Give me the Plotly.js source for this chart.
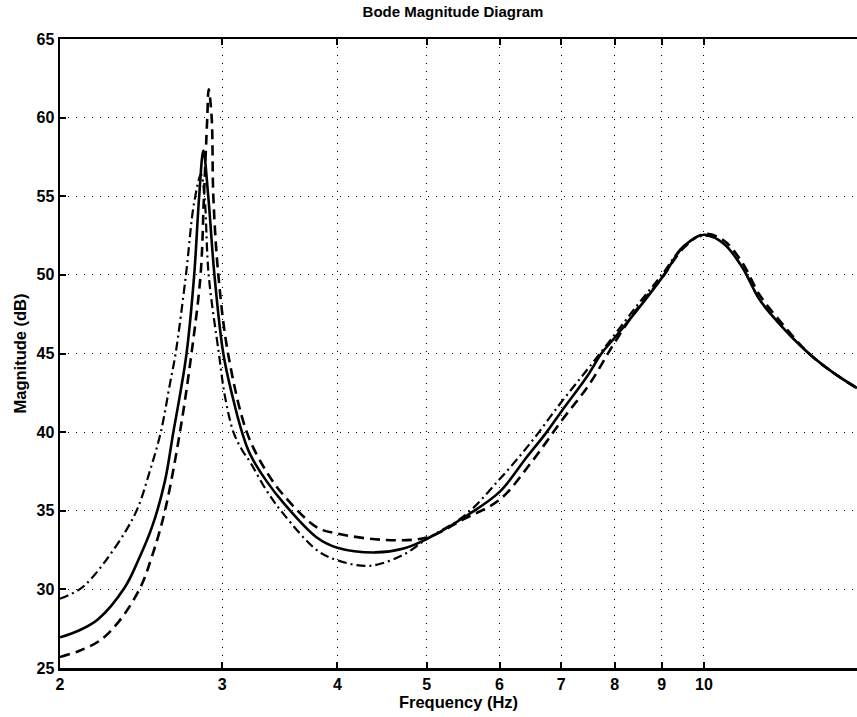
<!DOCTYPE html>
<html>
<head>
<meta charset="utf-8">
<script src="https://cdn.plot.ly/plotly-3.0.1.min.js"></script>
<style>html,body{margin:0;padding:0;background:#fff;overflow:hidden;}</style>
</head>
<body>
<div id="chart" style="width:857px;height:717px;"></div>
<script>
// Frequency (Hz) and magnitude (dB)
const freqSolid = [2.0, 2.1, 2.2, 2.35, 2.43, 2.52, 2.6, 2.655, 2.7, 2.744, 2.797, 2.832, 2.862, 2.897, 2.942, 3.008, 3.08, 3.152, 3.216, 3.35, 3.496, 3.8, 4.0, 4.4, 4.72, 5.0, 5.53, 6.0, 6.42, 6.75, 7.0, 7.46, 7.74, 8.0, 8.5, 9.05, 9.5, 10.0, 10.5, 11.0, 11.5, 12.2, 13.0, 13.8, 14.66];
const magSolid  = [26.95, 27.4, 28.1, 30.1, 31.8, 34.05, 36.9, 40.0, 42.4, 45.0, 50.0, 55.0, 57.9, 55.0, 50.0, 45.0, 42.2, 40.0, 38.6, 36.9, 35.5, 33.3, 32.65, 32.35, 32.6, 33.2, 34.7, 36.2, 38.4, 40.0, 41.3, 43.5, 45.0, 46.0, 47.9, 50.0, 51.8, 52.55, 52.0, 50.5, 48.4, 46.6, 45.0, 43.8, 42.8];

const freqDashed = [2.0, 2.1, 2.21, 2.32, 2.442, 2.52, 2.6, 2.699, 2.778, 2.842, 2.866, 2.89, 2.90, 2.922, 2.934, 2.971, 3.044, 3.19, 3.35, 3.496, 3.8, 4.0, 4.49, 5.0, 5.5, 6.0, 6.5, 7.0, 7.5, 8.0, 8.5, 9.0, 9.5, 10.0, 10.5, 11.0, 11.5, 12.2, 13.0, 13.8, 14.66];
const magDashed  = [25.7, 26.1, 26.75, 28.0, 30.06, 32.2, 35.0, 40.0, 45.0, 50.0, 55.0, 60.0, 61.8, 60.0, 55.0, 50.0, 45.0, 40.0, 37.5, 36.0, 33.95, 33.55, 33.15, 33.3, 34.5, 35.7, 38.1, 40.7, 43.0, 45.7, 48.0, 49.8, 51.7, 52.6, 52.2, 50.8, 48.7, 46.8, 45.0, 43.8, 42.8];

const freqDashDot = [2.0, 2.1, 2.156, 2.247, 2.362, 2.43, 2.503, 2.573, 2.633, 2.67, 2.74, 2.795, 2.845, 2.87, 2.90, 2.975, 3.02, 3.085, 3.15, 3.216, 3.35, 3.496, 3.8, 4.0, 4.34, 4.716, 5.0, 5.5, 6.0, 6.5, 7.0, 7.5, 8.0, 8.5, 9.0, 9.5, 10.0, 10.5, 11.0, 11.5, 12.2, 13.0, 13.8, 14.66];
const magDashDot  = [29.4, 30.0, 30.6, 31.9, 33.8, 35.2, 37.5, 40.0, 43.1, 45.0, 50.0, 54.5, 56.4, 55.0, 50.0, 45.0, 42.3, 40.0, 38.9, 38.1, 36.3, 34.8, 32.5, 31.85, 31.5, 32.2, 33.2, 34.7, 37.0, 39.4, 41.9, 44.1, 46.2, 48.2, 50.0, 51.8, 52.5, 52.0, 50.5, 48.4, 46.6, 45.0, 43.8, 42.8];

const xTickVals = [2, 3, 4, 5, 6, 7, 8, 9, 10];
const xTickText = ['2', '3', '4', '5', '6', '7', '8', '9', '10'];
const yTickVals = [25, 30, 35, 40, 45, 50, 55, 60, 65];

const FONT = 'Liberation Sans, Arial, Helvetica, sans-serif';

const traces = [
  {x: freqSolid, y: magSolid, mode: 'lines', type: 'scatter',
   line: {color: '#000', width: 2.6, shape: 'spline', smoothing: 1.0}, name: 'solid'},
  {x: freqDashed, y: magDashed, mode: 'lines', type: 'scatter',
   line: {color: '#000', width: 2.6, shape: 'spline', smoothing: 1.0, dash: '10px,6px'}, name: 'dashed'},
  {x: freqDashDot, y: magDashDot, mode: 'lines', type: 'scatter',
   line: {color: '#000', width: 2.2, shape: 'spline', smoothing: 1.0, dash: '9px,4px,2px,4px'}, name: 'dashdot'}
];

const layout = {
  width: 857, height: 717,
  margin: {l: 60, r: 0, t: 39, b: 49},
  paper_bgcolor: '#fff', plot_bgcolor: '#fff',
  showlegend: false,
  font: {family: FONT, color: '#000'},
  title: {text: 'Bode Magnitude Diagram', x: 0.5286, xref: 'container', xanchor: 'center',
          y: 0.983, yref: 'container', yanchor: 'middle',
          font: {family: FONT, size: 15, weight: 'bold', color: '#000'}},
  xaxis: {
    type: 'log', range: [Math.log10(2), Math.log10(14.66)],
    tickmode: 'array', tickvals: xTickVals, ticktext: xTickText,
    ticks: 'inside', ticklen: 6, tickwidth: 2, tickcolor: '#000',
    showline: true, linewidth: 2.5, linecolor: '#000', mirror: 'ticks',
    showgrid: true, gridcolor: '#000', gridwidth: 1, griddash: '1px,7px',
    zeroline: false,
    tickfont: {family: FONT, size: 16, weight: 'bold', color: '#000'},
    title: {text: 'Frequency (Hz)', standoff: 3, font: {family: FONT, size: 16.5, weight: 'bold', color: '#000'}},
    automargin: false
  },
  yaxis: {
    range: [25, 65],
    tickmode: 'array', tickvals: yTickVals,
    ticks: 'inside', ticklen: 6, tickwidth: 2, tickcolor: '#000',
    showline: true, linewidth: 2.5, linecolor: '#000',
    showgrid: true, gridcolor: '#000', gridwidth: 1, griddash: '1px,7px',
    zeroline: false,
    tickfont: {family: FONT, size: 16, weight: 'bold', color: '#000'},
    title: {text: 'Magnitude (dB)', standoff: 6, font: {family: FONT, size: 16.5, weight: 'bold', color: '#000'}},
    automargin: false
  }
};

Plotly.newPlot('chart', traces, layout, {displayModeBar: false, staticPlot: true});
</script>
</body>
</html>
